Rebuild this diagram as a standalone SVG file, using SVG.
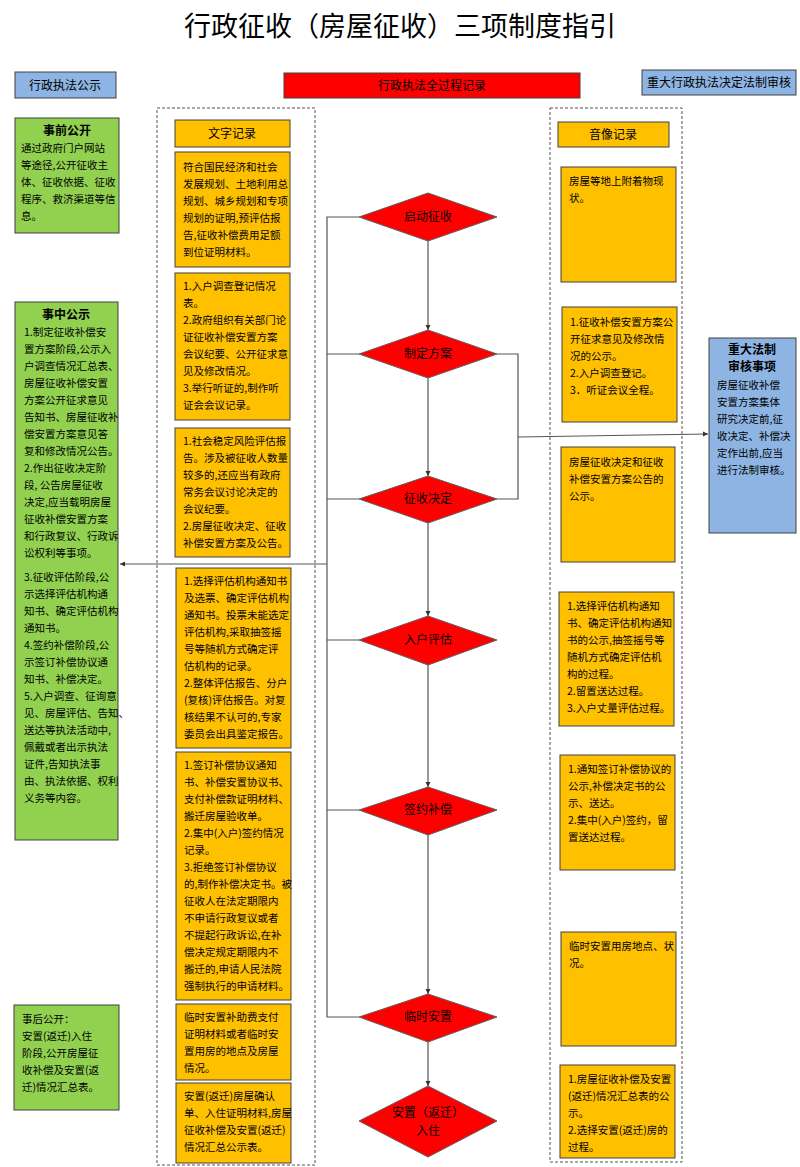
<svg xmlns="http://www.w3.org/2000/svg" width="800" height="1167" viewBox="0 0 800 1167">
<defs>
<style>
text{font-family:"Noto Sans CJK SC","Liberation Sans",sans-serif;fill:#000}
.t{font-size:10.5px}
.h{font-size:12px}
.b{font-weight:bold;font-size:12px}
.or{fill:#FFC000;stroke:#404040;stroke-width:1}
.gr{fill:#92D050;stroke:#404040;stroke-width:1}
.bl{fill:#8DB4E2;stroke:#404040;stroke-width:1}
.dm{fill:#FF0000;stroke:#606060;stroke-width:1}
.dash{fill:none;stroke:#555;stroke-width:1;stroke-dasharray:3,2}
.ln{fill:none;stroke:#555;stroke-width:1.2}
</style>
<marker id="ar" markerWidth="6" markerHeight="6" refX="5" refY="3" orient="auto" markerUnits="userSpaceOnUse"><path d="M0,0.5 L5,3 L0,5.5z" fill="#333"/></marker>
</defs>
<text x="400" y="36" font-size="27" text-anchor="middle">行政征收（房屋征收）三项制度指引</text>

<g id="hdr1"><rect class="bl" x="15" y="72" width="101" height="26"/><text class="h" x="65" y="90" text-anchor="middle">行政执法公示</text></g>
<g id="hdr2"><rect x="284" y="73" width="296" height="25" fill="#FF0000" stroke="#404040"/><text class="h" x="432" y="90" text-anchor="middle">行政执法全过程记录</text></g>
<g id="hdr3"><rect class="bl" x="642" y="70" width="154" height="25"/><text class="h" x="719" y="87" text-anchor="middle">重大行政执法决定法制审核</text></g>

<rect class="dash" x="157" y="108" width="158" height="1057"/>
<rect class="dash" x="550" y="108" width="132" height="1054"/>

<g id="connectors">
<path class="ln" d="M428,241 V330" marker-end="url(#ar)"/>
<path class="ln" d="M428,378 V476" marker-end="url(#ar)"/>
<path class="ln" d="M428,523 V616" marker-end="url(#ar)"/>
<path class="ln" d="M428,665 V787" marker-end="url(#ar)"/>
<path class="ln" d="M428,835 V994" marker-end="url(#ar)"/>
<path class="ln" d="M428,1042 V1086" marker-end="url(#ar)"/>
<path class="ln" d="M359,217 H327 V1017 H359"/>
<path class="ln" d="M327,354 H359 M327,499 H359 M327,640 H359 M327,810 H359"/>
<path class="ln" d="M327,564 H120" marker-end="url(#ar)"/>
<path class="ln" d="M497,354 H518 V499 H497"/>
<path class="ln" d="M518,437 L708,434" marker-end="url(#ar)"/>
</g>

<g id="d1"><polygon class="dm" points="359,217 428,193 497,217 428,241"/><text class="h" x="428" y="221" text-anchor="middle">启动征收</text></g>
<g id="d2"><polygon class="dm" points="359,354 428,330 497,354 428,378"/><text class="h" x="428" y="358" text-anchor="middle">制定方案</text></g>
<g id="d3"><polygon class="dm" points="359,499 428,476 497,499 428,523"/><text class="h" x="428" y="503" text-anchor="middle">征收决定</text></g>
<g id="d4"><polygon class="dm" points="359,640 428,616 497,640 428,665"/><text class="h" x="428" y="644" text-anchor="middle">入户评估</text></g>
<g id="d5"><polygon class="dm" points="359,810 428,787 497,810 428,835"/><text class="h" x="428" y="814" text-anchor="middle">签约补偿</text></g>
<g id="d6"><polygon class="dm" points="359,1017 428,994 497,1017 428,1042"/><text class="h" x="428" y="1021" text-anchor="middle">临时安置</text></g>
<g id="d7"><polygon class="dm" points="359,1121 428,1086 497,1121 428,1157"/><text class="h" x="428" y="1117" text-anchor="middle">安置（返迁）</text><text class="h" x="428" y="1135" text-anchor="middle">入住</text></g>

<g id="g1"><rect class="gr" x="15" y="118" width="104" height="115"/>
<text class="b" x="67" y="135" text-anchor="middle">事前公开</text>
<text class="t" x="21"><tspan x="21" y="152">通过政府门户网站</tspan><tspan x="21" y="169">等途径,公开征收主</tspan><tspan x="21" y="186">体、征收依据、征收</tspan><tspan x="21" y="203">程序、救济渠道等信</tspan><tspan x="21" y="220">息。</tspan></text></g>

<g id="g2"><rect class="gr" x="15" y="302" width="103" height="538"/>
<text class="b" x="66" y="319" text-anchor="middle">事中公示</text>
<text class="t"><tspan x="24" y="336">1.制定征收补偿安</tspan><tspan x="24" y="353">置方案阶段,公示入</tspan><tspan x="24" y="370">户调查情况汇总表、</tspan><tspan x="24" y="387">房屋征收补偿安置</tspan><tspan x="24" y="404">方案公开征求意见</tspan><tspan x="24" y="421">告知书、房屋征收补</tspan><tspan x="24" y="438">偿安置方案意见答</tspan><tspan x="24" y="455">复和修改情况公告。</tspan><tspan x="24" y="472">2.作出征收决定阶</tspan><tspan x="24" y="489">段, 公告房屋征收</tspan><tspan x="24" y="506">决定,应当载明房屋</tspan><tspan x="24" y="523">征收补偿安置方案</tspan><tspan x="24" y="540">和行政复议、行政诉</tspan><tspan x="24" y="557">讼权利等事项。</tspan><tspan x="24" y="581">3.征收评估阶段,公</tspan><tspan x="24" y="598">示选择评估机构通</tspan><tspan x="24" y="615">知书、确定评估机构</tspan><tspan x="24" y="632">通知书。</tspan><tspan x="24" y="649">4.签约补偿阶段,公</tspan><tspan x="24" y="666">示签订补偿协议通</tspan><tspan x="24" y="683">知书、补偿决定。</tspan><tspan x="24" y="700">5.入户调查、征询意</tspan><tspan x="24" y="717">见、房屋评估、告知、</tspan><tspan x="24" y="734">送达等执法活动中,</tspan><tspan x="24" y="751">佩戴或者出示执法</tspan><tspan x="24" y="768">证件,告知执法事</tspan><tspan x="24" y="785">由、执法依据、权利</tspan><tspan x="24" y="802">义务等内容。</tspan></text></g>

<g id="g3"><rect class="gr" x="14" y="1005" width="105" height="105"/>
<text class="t"><tspan x="22" y="1023">事后公开：</tspan><tspan x="22" y="1040">安置(返迁)入住</tspan><tspan x="22" y="1057">阶段,公开房屋征</tspan><tspan x="22" y="1074">收补偿及安置(返</tspan><tspan x="22" y="1091">迁)情况汇总表。</tspan></text></g>

<g id="w0"><rect class="or" x="175" y="120" width="115" height="27"/><text class="h" x="232" y="138" text-anchor="middle">文字记录</text></g>
<g id="w1"><rect class="or" x="175" y="152" width="115" height="115"/>
<text class="t"><tspan x="183" y="171">符合国民经济和社会</tspan><tspan x="183" y="188">发展规划、土地利用总</tspan><tspan x="183" y="205">规划、城乡规划和专项</tspan><tspan x="183" y="222">规划的证明,预评估报</tspan><tspan x="183" y="239">告,征收补偿费用足额</tspan><tspan x="183" y="256">到位证明材料。</tspan></text></g>
<g id="w2"><rect class="or" x="175" y="273" width="115" height="147"/>
<text class="t"><tspan x="183" y="290">1.入户调查登记情况</tspan><tspan x="183" y="307">表。</tspan><tspan x="183" y="324">2.政府组织有关部门论</tspan><tspan x="183" y="341">证征收补偿安置方案</tspan><tspan x="183" y="358">会议纪要、公开征求意</tspan><tspan x="183" y="375">见及修改情况。</tspan><tspan x="183" y="392">3.举行听证的,制作听</tspan><tspan x="183" y="409">证会会议记录。</tspan></text></g>
<g id="w3"><rect class="or" x="175" y="428" width="115" height="129"/>
<text class="t"><tspan x="183" y="445">1.社会稳定风险评估报</tspan><tspan x="183" y="462">告。涉及被征收人数量</tspan><tspan x="183" y="479">较多的,还应当有政府</tspan><tspan x="183" y="496">常务会议讨论决定的</tspan><tspan x="183" y="513">会议纪要。</tspan><tspan x="183" y="530">2.房屋征收决定、征收</tspan><tspan x="183" y="547">补偿安置方案及公告。</tspan></text></g>
<g id="w4"><rect class="or" x="176" y="568" width="115" height="180"/>
<text class="t"><tspan x="184" y="585">1.选择评估机构通知书</tspan><tspan x="184" y="602">及选票、确定评估机构</tspan><tspan x="184" y="619">通知书。投票未能选定</tspan><tspan x="184" y="636">评估机构,采取抽签摇</tspan><tspan x="184" y="653">号等随机方式确定评</tspan><tspan x="184" y="670">估机构的记录。</tspan><tspan x="184" y="687">2.整体评估报告、分户</tspan><tspan x="184" y="704">(复核)评估报告。对复</tspan><tspan x="184" y="721">核结果不认可的,专家</tspan><tspan x="184" y="738">委员会出具鉴定报告。</tspan></text></g>
<g id="w5"><rect class="or" x="176" y="752" width="115" height="248"/>
<text class="t"><tspan x="184" y="769">1.签订补偿协议通知</tspan><tspan x="184" y="786">书、补偿安置协议书、</tspan><tspan x="184" y="803">支付补偿款证明材料、</tspan><tspan x="184" y="820">搬迁房屋验收单。</tspan><tspan x="184" y="837">2.集中(入户)签约情况</tspan><tspan x="184" y="854">记录。</tspan><tspan x="184" y="871">3.拒绝签订补偿协议</tspan><tspan x="184" y="888">的,制作补偿决定书。被</tspan><tspan x="184" y="905">征收人在法定期限内</tspan><tspan x="184" y="922">不申请行政复议或者</tspan><tspan x="184" y="939">不提起行政诉讼,在补</tspan><tspan x="184" y="956">偿决定规定期限内不</tspan><tspan x="184" y="973">搬迁的,申请人民法院</tspan><tspan x="184" y="990">强制执行的申请材料。</tspan></text></g>
<g id="w6"><rect class="or" x="176" y="1004" width="115" height="76"/>
<text class="t"><tspan x="184" y="1021">临时安置补助费支付</tspan><tspan x="184" y="1038">证明材料或者临时安</tspan><tspan x="184" y="1055">置用房的地点及房屋</tspan><tspan x="184" y="1072">情况。</tspan></text></g>
<g id="w7"><rect class="or" x="176" y="1083" width="115" height="80"/>
<text class="t"><tspan x="184" y="1100">安置(返迁)房屋确认</tspan><tspan x="184" y="1117">单、入住证明材料,房屋</tspan><tspan x="184" y="1134">征收补偿及安置(返迁)</tspan><tspan x="184" y="1151">情况汇总公示表。</tspan></text></g>

<g id="v0"><rect class="or" x="558" y="122" width="111" height="25"/><text class="h" x="613" y="139" text-anchor="middle">音像记录</text></g>
<g id="v1"><rect class="or" x="561" y="167" width="115" height="115"/>
<text class="t"><tspan x="569" y="185">房屋等地上附着物现</tspan><tspan x="569" y="202">状。</tspan></text></g>
<g id="v2"><rect class="or" x="562" y="307" width="115" height="115"/>
<text class="t"><tspan x="570" y="326">1.征收补偿安置方案公</tspan><tspan x="570" y="343">开征求意见及修改情</tspan><tspan x="570" y="360">况的公示。</tspan><tspan x="570" y="377">2.入户调查登记。</tspan><tspan x="570" y="394">3．听证会议全程。</tspan></text></g>
<g id="v3"><rect class="or" x="561" y="447" width="114" height="115"/>
<text class="t"><tspan x="569" y="466">房屋征收决定和征收</tspan><tspan x="569" y="483">补偿安置方案公告的</tspan><tspan x="569" y="500">公示。</tspan></text></g>
<g id="v4"><rect class="or" x="559" y="592" width="115" height="134"/>
<text class="t"><tspan x="567" y="610">1.选择评估机构通知</tspan><tspan x="567" y="627">书、确定评估机构通知</tspan><tspan x="567" y="644">书的公示,抽签摇号等</tspan><tspan x="567" y="661">随机方式确定评估机</tspan><tspan x="567" y="678">构的过程。</tspan><tspan x="567" y="695">2.留置送达过程。</tspan><tspan x="567" y="712">3.入户丈量评估过程。</tspan></text></g>
<g id="v5"><rect class="or" x="560" y="755" width="115" height="115"/>
<text class="t"><tspan x="568" y="773">1.通知签订补偿协议的</tspan><tspan x="568" y="790">公示,补偿决定书的公</tspan><tspan x="568" y="807">示、送达。</tspan><tspan x="568" y="824">2.集中(入户)签约，留</tspan><tspan x="568" y="841">置送达过程。</tspan></text></g>
<g id="v6"><rect class="or" x="561" y="932" width="115" height="114"/>
<text class="t"><tspan x="569" y="950">临时安置用房地点、状</tspan><tspan x="569" y="967">况。</tspan></text></g>
<g id="v7"><rect class="or" x="560" y="1065" width="115" height="93"/>
<text class="t"><tspan x="568" y="1083">1.房屋征收补偿及安置</tspan><tspan x="568" y="1100">(返迁)情况汇总表的公</tspan><tspan x="568" y="1117">示。</tspan><tspan x="568" y="1134">2.选择安置(返迁)房的</tspan><tspan x="568" y="1151">过程。</tspan></text></g>

<g id="r1"><rect class="bl" x="709" y="338" width="87" height="195"/>
<text class="b" x="752" y="354" text-anchor="middle">重大法制</text><text class="b" x="752" y="371" text-anchor="middle">审核事项</text>
<text class="t"><tspan x="717" y="389">房屋征收补偿</tspan><tspan x="717" y="406">安置方案集体</tspan><tspan x="717" y="423">研究决定前,征</tspan><tspan x="717" y="440">收决定、补偿决</tspan><tspan x="717" y="457">定作出前,应当</tspan><tspan x="717" y="474">进行法制审核。</tspan></text></g>
</svg>
